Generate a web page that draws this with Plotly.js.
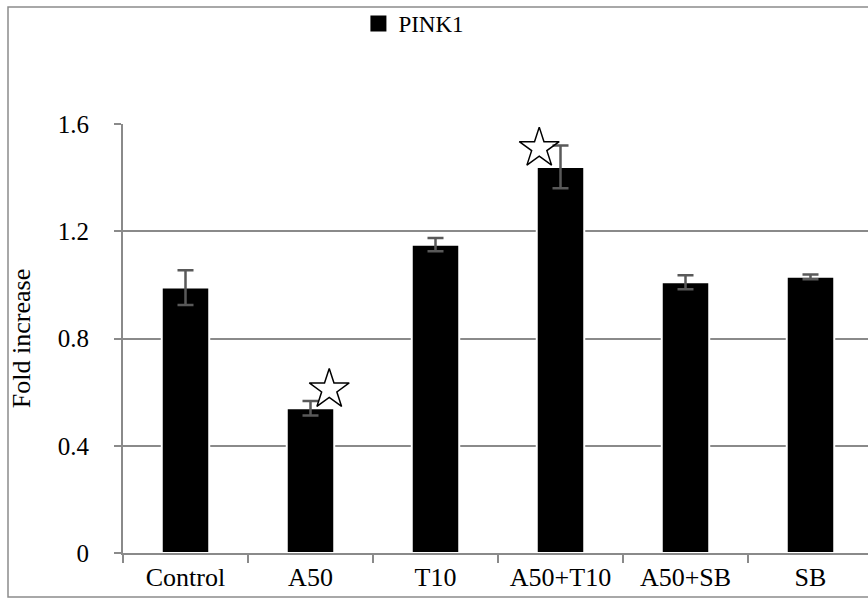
<!DOCTYPE html>
<html>
<head>
<meta charset="utf-8">
<script src="https://cdn.plot.ly/plotly-3.0.1.min.js"></script>
<style>html,body{margin:0;padding:0;background:#fff;}#chart{width:868px;height:599px;}</style>
</head>
<body>
<div id="chart"></div>
<script>
const categories = ['Control', 'A50', 'T10', 'A50+T10', 'A50+SB', 'SB'];
const seriesName = 'PINK1';
const foldIncrease = [0.99, 0.54, 1.15, 1.44, 1.01, 1.03];
const errorValues = [0.065, 0.027, 0.025, 0.08, 0.026, 0.009];
const sigCategories = ['A50', 'A50+T10'];
const sigY = [0.61, 1.51];
const yTickVals = [0, 0.4, 0.8, 1.2, 1.6];
const yTickText = ['0', '0.4', '0.8', '1.2', '1.6'];

const FONT = 'Times New Roman, Liberation Serif, serif';
const GRID = '#8a8a8a';
const sigOffsets = {'A50': 0.15, 'A50+T10': -0.17};

const bars = {
  type: 'bar',
  x: categories,
  y: foldIncrease,
  name: seriesName,
  width: 0.38,
  showlegend: false,
  marker: {color: '#000000', line: {color: '#ffffff', width: 2}},
  error_y: {type: 'data', array: errorValues, visible: true, color: '#595959', thickness: 2.5, width: 8},
  xaxis: 'x', yaxis: 'y'
};

// legend entry for the bar series (square swatch like the original)
const legendEntry = {
  type: 'scatter', mode: 'markers',
  x: [null], y: [null],
  name: seriesName,
  marker: {symbol: 'square', size: 16, color: '#000000'},
  showlegend: true, hoverinfo: 'skip',
  xaxis: 'x2', yaxis: 'y'
};

const stars = {
  type: 'scatter',
  mode: 'markers',
  x: sigCategories.map(c => categories.indexOf(c) + sigOffsets[c]),
  y: sigY,
  marker: {symbol: 'star-open', size: 30, color: '#000000', line: {width: 1.5, color: '#000000'}},
  showlegend: false,
  hoverinfo: 'skip',
  xaxis: 'x2', yaxis: 'y'
};

const xr = [-0.5, 5.46];
const T = 124, B = 46, H = 599 - T - B;
const layout = {
  width: 868, height: 599,
  margin: {l: 123, r: 0, t: T, b: B},
  paper_bgcolor: '#ffffff', plot_bgcolor: '#ffffff',
  font: {family: FONT, color: '#000000', size: 24},
  showlegend: true,
  legend: {orientation: 'h', x: 0.316, y: (553 - 2) / H, xanchor: 'left', yanchor: 'top',
           itemsizing: 'trace',
           bgcolor: 'rgba(0,0,0,0)', font: {family: FONT, size: 23, color: '#000'}},
  xaxis: {
    type: 'category', range: xr, tickson: 'boundaries',
    ticks: 'outside', ticklen: 8, tickwidth: 2, tickcolor: GRID,
    showline: true, linecolor: GRID, linewidth: 2,
    showgrid: false, zeroline: false,
    tickfont: {family: FONT, size: 26, color: '#000'}
  },
  xaxis2: {overlaying: 'x', range: xr, visible: false, type: 'linear'},
  yaxis: {
    range: [0, 1.6], tickvals: yTickVals, ticktext: yTickText,
    ticks: 'outside', ticklen: 7, tickwidth: 2, tickcolor: GRID,
    showline: true, linecolor: GRID, linewidth: 2,
    showgrid: true, gridcolor: GRID, gridwidth: 2,
    zeroline: false,
    ticklabelstandoff: 20,
    tickfont: {family: FONT, size: 25, color: '#000'},
    title: {text: 'Fold increase', font: {family: FONT, size: 26, color: '#000'}, standoff: 20}
  },
  shapes: [{
    type: 'rect', xref: 'paper', yref: 'paper',
    x0: (8 - 123) / 745, x1: 1.05, y0: (553 - 597) / H, y1: (553 - 7) / H,
    line: {color: '#8c8c8c', width: 1.5}, fillcolor: 'rgba(0,0,0,0)', layer: 'below'
  }]
};

Plotly.newPlot('chart', [bars, stars, legendEntry], layout, {displayModeBar: false, staticPlot: true});
</script>
</body>
</html>
